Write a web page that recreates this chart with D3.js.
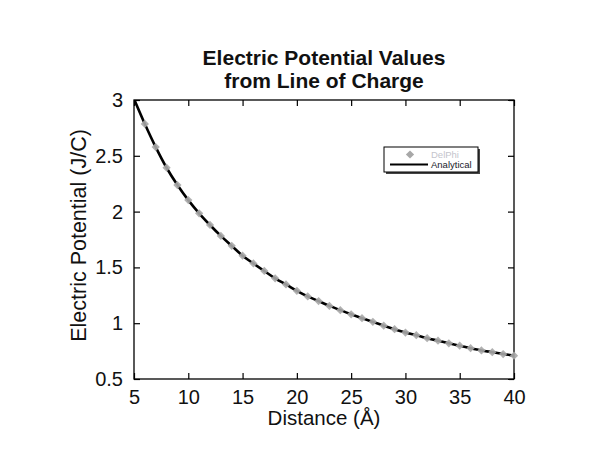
<!DOCTYPE html>
<html>
<head>
<meta charset="utf-8">
<style>
  body { margin: 0; background: #fff; }
  svg text { font-family: "Liberation Sans", Arial, sans-serif; }
</style>
</head>
<body>
<div id="chart"></div>
<script src="https://d3js.org/d3.v7.min.js"></script>
<script>
// values
var distance = [6, 7, 8, 9, 10, 11, 12, 13, 14, 15, 16, 17, 18, 19, 20, 21, 22, 23, 24, 25,
                26, 27, 28, 29, 30, 31, 32, 33, 34, 35, 36, 37, 38, 39, 40];
var delphi = [2.785, 2.578, 2.393, 2.238, 2.103, 1.985, 1.880, 1.782, 1.693, 1.605,
              1.535, 1.468, 1.402, 1.347, 1.290, 1.240, 1.198, 1.155, 1.117, 1.080,
              1.045, 1.012, 0.978, 0.946, 0.916, 0.893, 0.866, 0.843, 0.820, 0.798,
              0.776, 0.756, 0.740, 0.724, 0.709];
var analyticDistance = [5, 6, 7, 8, 9, 10, 11, 12, 13, 14, 15, 16, 17, 18, 19, 20, 21, 22, 23, 24,
                        25, 26, 27, 28, 29, 30, 31, 32, 33, 34, 35, 36, 37, 38, 39, 40];
var analytical = [3.01, 2.785, 2.578, 2.393, 2.238, 2.103, 1.985, 1.880, 1.782, 1.693,
                  1.605, 1.535, 1.468, 1.402, 1.347, 1.290, 1.240, 1.198, 1.155, 1.117,
                  1.080, 1.045, 1.012, 0.978, 0.946, 0.916, 0.893, 0.866, 0.843, 0.820,
                  0.798, 0.776, 0.756, 0.740, 0.724, 0.709];
var xTicks = [5, 10, 15, 20, 25, 30, 35, 40];
var yTicks = [0.5, 1, 1.5, 2, 2.5, 3];
var seriesNames = ["DelPhi", "Analytical"];

var margin = {top: 100, right: 86, bottom: 71, left: 134};
var width = 600 - margin.left - margin.right;   // 380
var height = 450 - margin.top - margin.bottom;  // 279

var svg = d3.select("#chart").append("svg")
    .attr("width", 600)
    .attr("height", 450);

var g = svg.append("g")
    .attr("transform", "translate(" + margin.left + "," + margin.top + ")");

var x = d3.scaleLinear().domain([5, 40]).range([0, width]);
var y = d3.scaleLinear().domain([0.5, 3]).range([height, 0]);

// clip so the curve stays in the frame
g.append("clipPath").attr("id", "clip")
  .append("rect").attr("width", width).attr("height", height);

// axes, ticks pointing inward
function styleAxis(sel, fs) {
  sel.select(".domain").remove();
  sel.selectAll(".tick line").attr("stroke", "#000").attr("stroke-width", 1.2);
  sel.selectAll(".tick text").style("font-size", fs + "px").attr("fill", "#111");
}

g.append("g")
    .attr("transform", "translate(0," + height + ")")
    .call(d3.axisBottom(x).tickValues(xTicks).tickSizeInner(-6).tickSizeOuter(0).tickPadding(11))
    .call(styleAxis, 20);

g.append("g")
    .call(d3.axisLeft(y).tickValues(yTicks).tickFormat(d3.format("")).tickSizeInner(-6).tickSizeOuter(0).tickPadding(11))
    .call(styleAxis, 20);

g.append("g")
    .call(d3.axisTop(x).tickValues(xTicks).tickFormat("").tickSizeInner(-6).tickSizeOuter(0))
    .call(styleAxis, 20);

g.append("g")
    .attr("transform", "translate(" + width + ",0)")
    .call(d3.axisRight(y).tickValues(yTicks).tickFormat("").tickSizeInner(-6).tickSizeOuter(0))
    .call(styleAxis, 20);

g.append("rect")
    .attr("width", width)
    .attr("height", height)
    .attr("fill", "none")
    .attr("stroke", "#000")
    .attr("stroke-width", 1.3);

// analytical curve
var line = d3.line()
    .x(function(d, i) { return x(analyticDistance[i]); })
    .y(function(d) { return y(d); })
    .curve(d3.curveMonotoneX);

g.append("path")
    .datum(analytical)
    .attr("clip-path", "url(#clip)")
    .attr("fill", "none")
    .attr("stroke", "#000")
    .attr("stroke-width", 2.6)
    .attr("d", line);

// DelPhi diamonds (squares turned 45 degrees)
var diamond = d3.symbol().type(d3.symbolSquare).size(34);
g.append("g")
  .selectAll("path")
  .data(delphi)
  .enter().append("path")
    .attr("transform", function(d, i) { return "translate(" + x(distance[i]) + "," + y(d) + ") rotate(45)"; })
    .attr("d", diamond)
    .attr("fill", "#a8a8a8")
    .attr("fill-opacity", 0.9);

// title
var title = svg.append("text")
    .attr("text-anchor", "middle")
    .style("font-size", "21px")
    .style("font-weight", "bold")
    .attr("fill", "#111");
title.append("tspan").attr("x", margin.left + width / 2).attr("y", 65).text("Electric Potential Values");
title.append("tspan").attr("x", margin.left + width / 2).attr("y", 88).text("from Line of Charge");

// axis titles
svg.append("text")
    .attr("x", margin.left + width / 2)
    .attr("y", 425)
    .attr("text-anchor", "middle")
    .style("font-size", "20.5px")
    .attr("fill", "#111")
    .text("Distance (Å)");

svg.append("text")
    .attr("transform", "translate(86," + (margin.top + height / 2 - 4) + ") rotate(-90)")
    .attr("text-anchor", "middle")
    .style("font-size", "21.5px")
    .attr("fill", "#111")
    .text("Electric Potential (J/C)");

// legend
var legend = svg.append("g").attr("transform", "translate(384,147)");
legend.append("rect")
    .attr("x", 2).attr("y", 2).attr("width", 94).attr("height", 25)
    .attr("fill", "#444");
legend.append("rect")
    .attr("width", 94).attr("height", 25)
    .attr("fill", "#fff").attr("stroke", "#000").attr("stroke-width", 1);

legend.append("path")
    .attr("transform", "translate(26,7.5) rotate(45)")
    .attr("d", diamond)
    .attr("fill", "#a8a8a8");
legend.append("line")
    .attr("x1", 6).attr("x2", 44).attr("y1", 17.5).attr("y2", 17.5)
    .attr("stroke", "#000").attr("stroke-width", 1.8);

legend.selectAll("text.lab")
  .data(seriesNames)
  .enter().append("text")
    .attr("class", "lab")
    .attr("x", 47)
    .attr("y", function(d, i) { return 7.5 + i * 10; })
    .attr("dy", "0.35em")
    .style("font-size", "9.5px")
    .attr("fill", function(d, i) { return i === 0 ? "#c4c4cc" : "#1a1a2a"; })
    .text(function(d) { return d; });
</script>
</body>
</html>
